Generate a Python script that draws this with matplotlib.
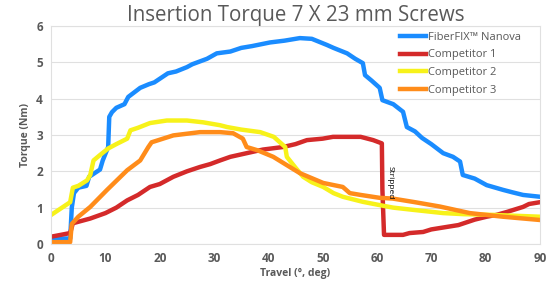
import matplotlib.pyplot as plt

plt.rcParams['font.family'] = ['Open Sans', 'DejaVu Sans']

TITLE = "Insertion Torque 7 X 23 mm Screws"
SERIES_NAMES = ["FiberFIX\u2122 Nanova", "Competitor 1", "Competitor 2", "Competitor 3"]
SERIES_COLORS = ["#1a8cff", "#d42a2a", "#f7f21a", "#ff8c1a"]

X_TICKS = [0, 10, 20, 30, 40, 50, 60, 70, 80, 90]
Y_TICKS = [0, 1, 2, 3, 4, 5, 6]

nanova_x = [0, 3.5, 3.8, 4.2, 5, 6.5, 7, 9, 9.5, 10.5, 10.7, 11.2, 12, 13.5, 14.2, 16.4, 18, 19,
            21.5, 23, 25, 26, 28.7, 30.5, 33, 35, 37, 40.3, 43, 45.8, 48, 50.8, 52, 54.5, 56, 57.4,
            57.8, 59, 60.5, 61, 63, 64.8, 65.5, 67, 68.3, 70, 72.2, 74, 75.3, 75.8, 78, 80.2, 83.2,
            85, 86.9, 90]
nanova_y = [0.15, 0.15, 1.0, 1.4, 1.55, 1.6, 1.85, 2.05, 2.3, 2.67, 3.5, 3.63, 3.75, 3.85, 4.05,
            4.3, 4.4, 4.45, 4.7, 4.75, 4.87, 4.95, 5.1, 5.25, 5.3, 5.4, 5.45, 5.55, 5.6, 5.67, 5.65,
            5.48, 5.4, 5.25, 5.1, 4.98, 4.65, 4.5, 4.3, 3.96, 3.85, 3.64, 3.22, 3.1, 2.92, 2.75, 2.5,
            2.4, 2.27, 1.9, 1.8, 1.62, 1.49, 1.42, 1.35, 1.3]

comp1_x = [0, 3.5, 4, 7.2, 10, 12, 14, 16, 18.2, 20, 22.5, 25, 27.4, 29.3, 31.1, 33, 36, 39, 42.7,
           45, 47.1, 50, 51.9, 54, 57, 59.3, 60.9, 61.0, 61.3, 64.8, 66, 68.5, 70, 72.9, 75, 76.6,
           78, 80.2, 82, 83.9, 86.9, 88, 90]
comp1_y = [0.2, 0.3, 0.57, 0.7, 0.85, 1.0, 1.2, 1.35, 1.57, 1.65, 1.85, 2.0, 2.12, 2.2, 2.3, 2.4,
           2.5, 2.6, 2.67, 2.75, 2.86, 2.9, 2.95, 2.95, 2.95, 2.86, 2.77, 1.5, 0.25, 0.25, 0.3,
           0.33, 0.4, 0.47, 0.52, 0.6, 0.67, 0.75, 0.8, 0.88, 1.02, 1.1, 1.15]

comp2_x = [0, 3.5, 4, 5, 6.6, 7.2, 7.8, 9, 10.5, 12, 14, 14.6, 16, 18.2, 21.3, 25, 28, 31.1, 32.4,
           35, 38.5, 41, 43.1, 43.4, 45, 46.4, 48, 50.1, 52, 53.7, 57.4, 60.5, 63, 66.6, 72.2, 76,
           81.4, 90]
comp2_y = [0.8, 1.15, 1.55, 1.6, 1.75, 1.9, 2.3, 2.45, 2.63, 2.75, 2.9, 3.13, 3.2, 3.33, 3.4, 3.4,
           3.35, 3.27, 3.22, 3.15, 3.08, 2.95, 2.67, 2.4, 2.1, 1.85, 1.7, 1.57, 1.4, 1.3, 1.16, 1.07,
           1.0, 0.94, 0.85, 0.82, 0.8, 0.75]

comp3_x = [0, 3.5, 3.8, 5, 7.2, 10.3, 14, 16.4, 17.9, 18.5, 22.5, 27.4, 31.1, 33.5, 35.3, 36, 38,
           40.9, 45.8, 50.1, 53.7, 55, 57, 60.5, 62.9, 67, 71.6, 77.1, 83.2, 90]
comp3_y = [0.05, 0.05, 0.55, 0.75, 1.02, 1.49, 2.03, 2.3, 2.67, 2.8, 2.99, 3.08, 3.08, 3.05, 2.9,
           2.67, 2.58, 2.4, 1.95, 1.68, 1.57, 1.4, 1.35, 1.27, 1.25, 1.15, 1.03, 0.85, 0.75, 0.66]

STRIPPED_AT = (62.5, 1.7)


def draw_graph():
    fig, ax = plt.subplots(figsize=(5.56, 2.87), dpi=100)
    fig.subplots_adjust(left=0.092, right=0.971, top=0.909, bottom=0.150)

    series = [(nanova_x, nanova_y), (comp1_x, comp1_y), (comp2_x, comp2_y), (comp3_x, comp3_y)]
    for (xs, ys), name, color in zip(series, SERIES_NAMES, SERIES_COLORS):
        ax.plot(xs, ys, color=color, linewidth=3.2, label=name, solid_joinstyle='round')

    ax.text(STRIPPED_AT[0], STRIPPED_AT[1], "Stripped", rotation=270, fontsize=6,
            ha='center', va='center', color='black')

    ax.set_xlim(0, 90)
    ax.set_ylim(0, 6)
    ax.set_xticks(X_TICKS)
    ax.set_yticks(Y_TICKS)
    ax.tick_params(length=0, labelsize=8.5, labelcolor='#595959', pad=6)
    for lbl in ax.get_xticklabels() + ax.get_yticklabels():
        lbl.set_fontweight('bold')
    ax.grid(axis='y', color='#e0e0e0', linewidth=0.8)
    ax.set_axisbelow(True)
    for spine in ax.spines.values():
        spine.set_color('#e0e0e0')
        spine.set_linewidth(0.8)

    ax.set_xlabel("Travel (\u00b0, deg)", fontsize=7.5, fontweight='bold', color='#595959', labelpad=2)
    ax.set_ylabel("Torque (Nm)", fontsize=7.5, fontweight='bold', color='#595959', labelpad=4)
    ax.set_title(TITLE, fontsize=14.8, color='#595959', pad=-2)

    ax.legend(loc='upper left', bbox_to_anchor=(392 / 556, 1 - 24 / 287),
              bbox_transform=fig.transFigure, frameon=False, fontsize=8,
              labelcolor='#595959', handlelength=2.4, handletextpad=0.1,
              labelspacing=0.6, borderpad=0.2)

    plt.savefig('out.png', dpi=100)


def main():
    draw_graph()


if __name__ == "__main__":
    main()
